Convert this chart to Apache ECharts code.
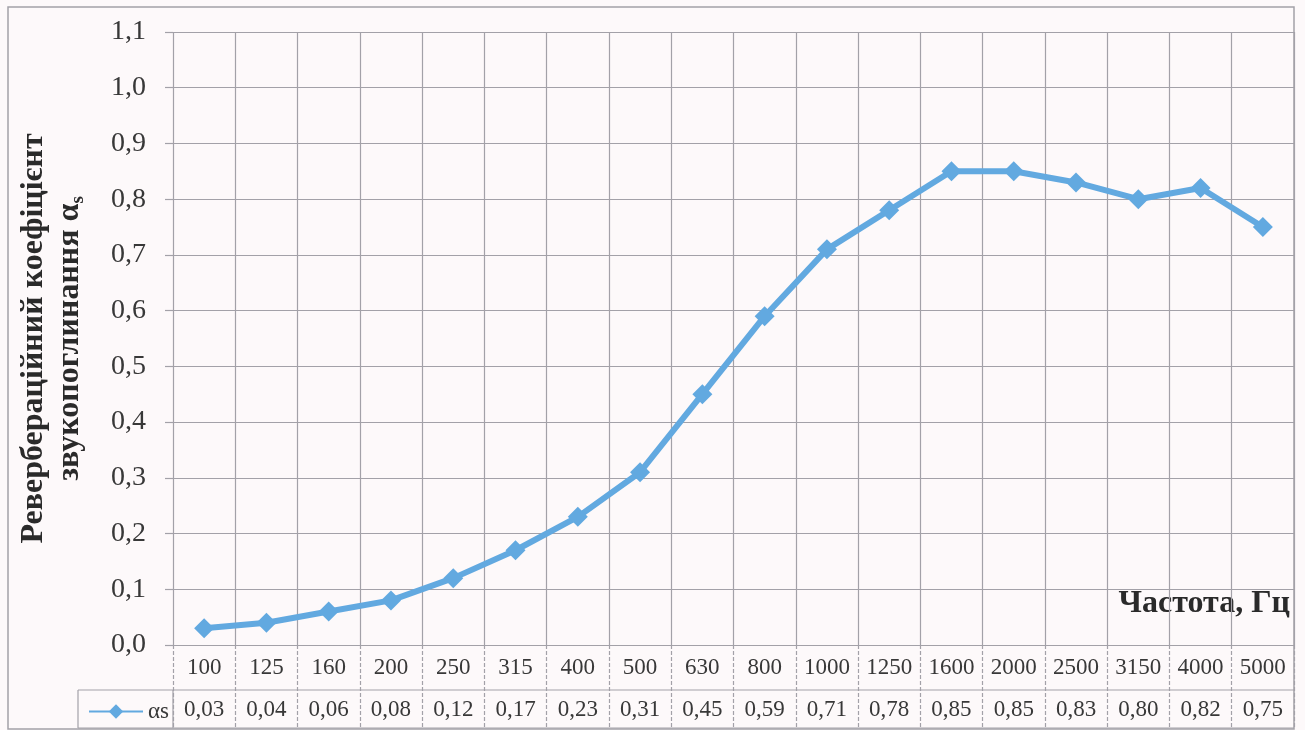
<!DOCTYPE html>
<html>
<head>
<meta charset="utf-8">
<script src="https://cdn.jsdelivr.net/npm/echarts@6/dist/echarts.min.js"></script>
<style>
html,body{margin:0;padding:0;background:#fdf9fa;}
#chart{width:1305px;height:730px;}
</style>
</head>
<body>
<div id="chart"></div>
<script>
const categories = ['100','125','160','200','250','315','400','500','630','800','1000','1250','1600','2000','2500','3150','4000','5000'];
const alphaS = [0.03,0.04,0.06,0.08,0.12,0.17,0.23,0.31,0.45,0.59,0.71,0.78,0.85,0.85,0.83,0.80,0.82,0.75];
const seriesName = 'αs';
const yTitleLine1 = 'Ревербераційний коефіцієнт';
const yTitleLine2 = 'звукопоглинання α';
const yTitleSub = 's';
const xTitle = 'Частота, Гц';

const SERIF = "'Liberation Serif','Times New Roman',serif";
const GRID_C = '#a3a1a8';
const TXT = '#383838';
const BLUE = '#62a9e0';

const chart = echarts.init(document.getElementById('chart'));
const fmt = (v, d) => Number(v).toFixed(d).replace('.', ',');

chart.setOption({
  backgroundColor: '#fdf9fa',
  animation: false,
  grid: [
    {left: 173, right: 11, top: 32, bottom: 85, outerBoundsMode: 'none', containLabel: false},
    {left: 173, right: 11, top: 645, height: 83, outerBoundsMode: 'none', containLabel: false}
  ],
  legend: {
    left: 83, top: 695,
    itemWidth: 54, itemHeight: 18, itemGap: 3,
    textStyle: {fontFamily: SERIF, fontSize: 23, color: TXT},
    data: [seriesName]
  },
  xAxis: [
    {
      type: 'category', data: categories, gridIndex: 0,
      boundaryGap: true,
      axisLine: {show: true, lineStyle: {color: GRID_C, width: 1.2, type: [4, 2]}},
      axisTick: {show: false},
      splitLine: {show: true, lineStyle: {color: GRID_C, width: 1.2}},
      axisLabel: {fontFamily: SERIF, fontSize: 23, color: TXT, margin: 11, interval: 0}
    },
    {
      type: 'category', data: categories, gridIndex: 0,
      position: 'bottom', offset: 42,
      axisLine: {show: false}, axisTick: {show: false}, splitLine: {show: false},
      axisLabel: {
        fontFamily: SERIF, fontSize: 23, color: TXT, margin: 11, interval: 0,
        formatter: (v, i) => fmt(alphaS[i], 2)
      }
    },
    {
      type: 'category', data: categories, gridIndex: 1,
      boundaryGap: true,
      axisLine: {show: false}, axisTick: {show: false}, axisLabel: {show: false},
      splitLine: {show: true, lineStyle: {color: GRID_C, width: 1.2, type: [4, 2]}}
    }
  ],
  yAxis: [
    {
      type: 'value', gridIndex: 0, min: 0, max: 1.1, interval: 0.1,
      axisLine: {show: false},
      axisTick: {show: true, length: 8, lineStyle: {color: GRID_C, width: 1.2}},
      splitLine: {show: true, lineStyle: {color: GRID_C, width: 1.2}},
      axisLabel: {fontFamily: SERIF, fontSize: 28, color: TXT, margin: 27, formatter: v => fmt(v, 1)},
      name: '{a|' + yTitleLine1 + '}\n{a|' + yTitleLine2 + '}{s|' + yTitleSub + '}',
      nameLocation: 'middle', nameRotate: 90, nameGap: 85, nameMoveOverlap: false,
      nameTextStyle: {
        rich: {
          a: {fontFamily: SERIF, fontSize: 32, fontWeight: 'bold', color: '#2a2a2a', lineHeight: 36},
          s: {fontFamily: SERIF, fontSize: 19, fontWeight: 'bold', color: '#2a2a2a', lineHeight: 36, verticalAlign: 'bottom', padding: [14, 0, 0, 0]}
        }
      }
    },
    {
      type: 'value', gridIndex: 1, min: 0, max: 1,
      axisLine: {show: false}, axisTick: {show: false}, axisLabel: {show: false}, splitLine: {show: false}
    }
  ],
  series: [
    {
      name: seriesName, type: 'line', data: alphaS,
      xAxisIndex: 0, yAxisIndex: 0,
      smooth: false,
      symbol: 'diamond', symbolSize: 20,
      lineStyle: {color: BLUE, width: 6},
      itemStyle: {color: BLUE}
    }
  ],
  graphic: [
    {type: 'rect', shape: {x: 8, y: 7, width: 1286, height: 722}, style: {fill: 'none', stroke: GRID_C, lineWidth: 1.5}, silent: true},
    {type: 'line', shape: {x1: 78, y1: 690, x2: 1294, y2: 690}, style: {stroke: GRID_C, lineWidth: 1.2}, silent: true},
    {type: 'line', shape: {x1: 78, y1: 728, x2: 1294, y2: 728}, style: {stroke: GRID_C, lineWidth: 1.2}, silent: true},
    {type: 'line', shape: {x1: 78, y1: 690, x2: 78, y2: 728}, style: {stroke: GRID_C, lineWidth: 1.2}, silent: true},
    {type: 'line', shape: {x1: 173, y1: 690, x2: 173, y2: 728}, style: {stroke: GRID_C, lineWidth: 1.2}, silent: true},
    {type: 'text', right: 15, top: 588, style: {text: xTitle, font: "bold 32px 'Liberation Serif','Times New Roman',serif", fill: '#2a2a2a'}, silent: true}
  ]
});
</script>
</body>
</html>
